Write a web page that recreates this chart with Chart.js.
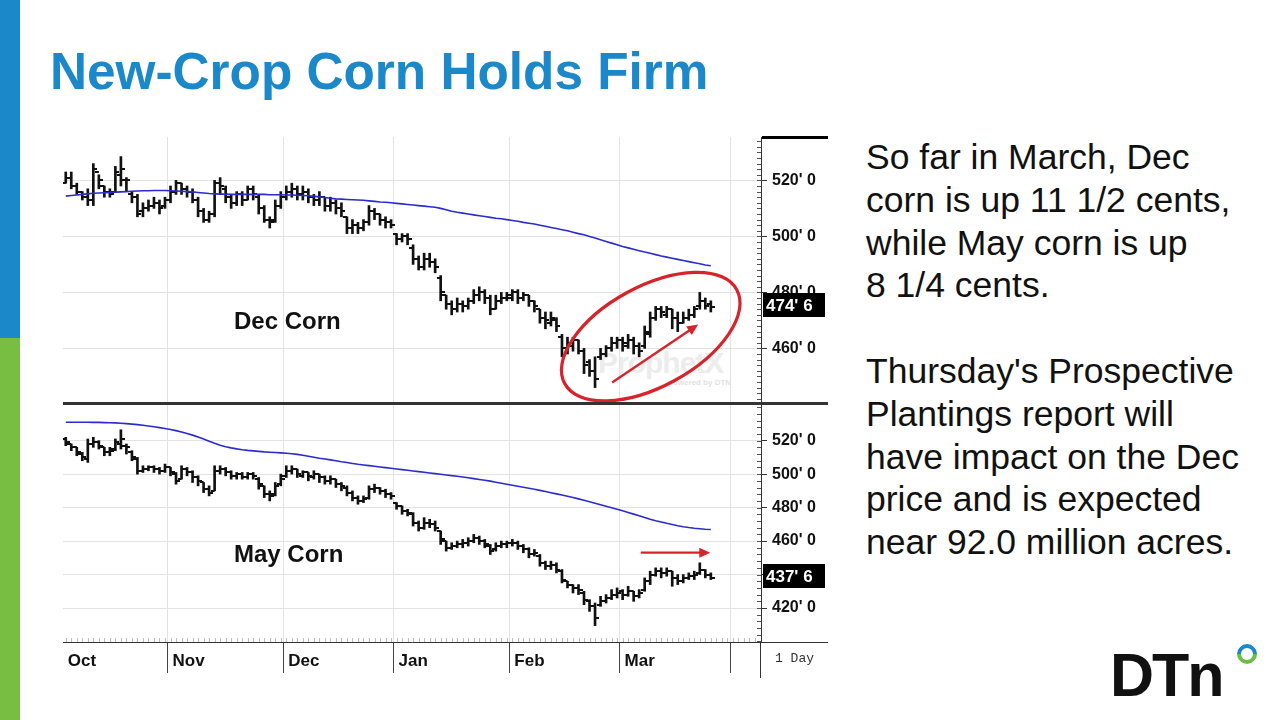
<!DOCTYPE html>
<html><head><meta charset="utf-8">
<script src="https://cdn.jsdelivr.net/npm/chart.js@4.4.1/dist/chart.umd.min.js"></script>
<style>
html,body{margin:0;padding:0;background:#fff;}
body{width:1280px;height:720px;position:relative;overflow:hidden;font-family:'Liberation Sans',Arial,sans-serif;}
.abs{position:absolute;}
#sb{left:0;top:0;width:20px;height:338px;background:#1a88c9;}
#sg{left:0;top:338px;width:20px;height:382px;background:#78be43;}
#title{left:50px;top:46px;margin:0;font-size:51.3px;line-height:51px;font-weight:bold;color:#1a88c9;white-space:nowrap;}
#side{left:866px;top:136px;font-size:35.5px;line-height:42.8px;color:#111;white-space:nowrap;}
#logo{left:1110px;top:640px;font-size:61px;line-height:70px;font-weight:bold;color:#111;letter-spacing:-2px;}
#ring{left:1237px;top:644px;width:12px;height:12px;border-radius:50%;border:4px solid;border-color:#1a88c9 #1a88c9 #6cbd45 #6cbd45;transform:rotate(-45deg);}
.plab{font-size:24px;font-weight:bold;color:#111;white-space:nowrap;}
#cTop{left:63px;top:137px;}
#cBot{left:63px;top:403px;}
.ln{background:#222;}
#day{left:775px;top:651px;font-family:'Liberation Mono','DejaVu Sans Mono',monospace;font-size:13px;color:#333;}
#wm{left:598px;top:346px;font-size:30px;font-weight:bold;color:#ececec;letter-spacing:-1px;}
#wm2{left:668px;top:378px;font-size:8px;font-weight:bold;color:#e2e2e2;}
</style></head>
<body>
<div id="sb" class="abs"></div><div id="sg" class="abs"></div>
<div id="title" class="abs">New-Crop Corn Holds Firm</div>
<div id="side" class="abs">So far in March, Dec<br>corn is up 11 1/2 cents,<br>while May corn is up<br>8 1/4 cents.<br>&nbsp;<br>Thursday's Prospective<br>Plantings report will<br>have impact on the Dec<br>price and is expected<br>near 92.0 million acres.</div>
<div id="logo" class="abs">DTn</div><div id="ring" class="abs"></div>
<div id="wm" class="abs">ProphetX</div><div id="wm2" class="abs">powered by DTN</div>
<canvas id="cTop" class="abs" width="765" height="266"></canvas>
<canvas id="cBot" class="abs" width="765" height="275"></canvas>
<div class="abs plab" style="left:234px;top:307px;">Dec Corn</div>
<div class="abs plab" style="left:234px;top:540px;">May Corn</div>
<div class="abs ln" style="left:762px;top:136px;width:66px;height:3px;background:#000;"></div>
<div class="abs ln" style="left:63px;top:402px;width:765px;height:3px;background:#333;"></div>
<div class="abs ln" style="left:761px;top:642px;width:67px;height:1px;background:#333;"></div>
<div class="abs ln" style="left:760px;top:642px;width:1px;height:36px;background:#333;"></div>
<div id="day" class="abs">1 Day</div>
<script>
// ---- data ----
const monthNames = ['Oct','Nov','Dec','Jan','Feb','Mar',''];
const monthStart = [0,19,40,60,81,101,121];

const decOpen = [519,521,518,516,514,513,523,518,516,516,522,520,515,514,509,510,511,512,511,
513,516,519,517,516,513,509,506,508,519,517,514,512,515,513,517,514,510,506,506,511,
514,516,517,515,516,514,513,514,511,512,510,507,503,504,503,505,509,508,506,505,
501,499,500,496,492,489,492,491,485,479,476,474,476,475,477,479,480,478,474,477,478,
478,480,478,479,477,474,471,469,470,464,460,461,463,459,455,452,457,458,460,462,
463,461,463,461,461,465,471,474,472,474,471,469,471,472,475,477,476];
const decHigh = [523,523,519,516,517,526,522,518,517,525,528.5,521,516,515,512,513,514,513,514,
518,520,519,518,517,514,510,509,520,521,518,515,516,516,518,518,515,511,507,513,516,
518,519,518,518,517,515,516,514,514,513,512,507,506,505,506,511,510,508,507,506,
501,501,501,497,493,494,494,492,486,479,477,478,477,478,481,482,481,479,479,480,480,
481,481,480,479,477,474,473,473,471,465,464,464,463,460,456,457,460,461,464,464,
464,465,464,462,468,473,475,475,475,474,473,473,474,475,480,478,477];
const decLow = [519,517,515,513,511,511,517,514,514,516,518,516,512,507,507,509,510,508,510,
512,515,515,514,512,507,505,505,507,515,512,510,511,511,513,513,508,505,503,505,510,
513,514,513,513,512,511,511,509,509,508,507,501,501,501,502,504,506,504,503,503,
497,498,497,490,488,488,489,487,477,474,472,473,473,474,476,477,476,472,474,476,477,
477,476,477,475,473,469,467,468,466,457,458,459,458,451,450,446,456,457,459,460,
459,460,458,457,460,464,470,471,471,467,466,469,470,471,474,474,473];
const decClose = [521,518,516,514,513,524,520,516,515,523,524,520,514,508,510,511,512,510,513,
516,519,517,516,513,509,506,508,519,518,514,512,515,513,517,515,510,506,505,511,514,
516,517,515,516,514,513,514,511,512,510,509,503,504,503,505,509,508,506,505,504,
499,500,499,492,489,492,491,489,480,476,474,476,475,477,479,480,478,474,477,478,479,
480,478,479,477,475,471,470,471,468,460,462,463,459,454,452,449,458,460,462,463,
462,463,461,459,466,471,474,473,474,471,469,471,472,474,477,475,474.75];
const decAvg = [514.4,514.6,514.8,515.0,515.2,515.4,515.5,515.6,515.7,515.8,
515.9,516.0,516.1,516.2,516.3,516.3,516.4,516.4,516.4,516.3,
516.2,516.1,516.0,515.9,515.7,515.5,515.3,515.2,515.1,515.1,
515.0,515.0,515.0,515.0,515.0,515.0,515.0,514.9,514.9,514.9,
514.8,514.8,514.7,514.6,514.5,514.3,514.1,513.9,513.6,513.4,
513.3,513.2,513.1,513.0,512.9,512.7,512.5,512.3,512.2,512.0,
511.8,511.6,511.4,511.2,511.0,510.8,510.6,510.4,510.0,509.5,
509.0,508.6,508.3,508.0,507.7,507.4,507.1,506.8,506.5,506.3,
506.0,505.7,505.4,505.0,504.7,504.4,504.0,503.6,503.2,502.8,
502.4,502.0,501.5,501.0,500.6,500.0,499.4,498.8,498.2,497.6,
497.0,496.4,495.9,495.4,494.9,494.4,494.0,493.5,493.0,492.6,
492.2,491.8,491.4,491.0,490.6,490.2,489.8,489.5];

const mayOpen = [521,518,516,512,509,518,519,516,513,515,518,517,513,509,502,503,504,503,502,
504,500,497,503,501,498,495,491,490,502,503,501,499,500,498,500,497,493,488,488,494,
499,502,503,499,501,498,500,498,496,497,494,492,489,486,484,486,491,492,490,488,
483,481,478,476,471,468,471,470,466,460,456,457,458,459,460,462,460,457,455,457,458,
459,459,457,455,452,451,447,445,446,442,436,434,432,429,424,421,422,424,426,428,
430,428,430,427,431,436,440,442,441,442,438,436,438,439,441,443,440];
const mayHigh = [522,518,516,513,521,522,520,516,516,521,526.5,518,514,510,505,505,505,504,506,
504,501,505,504,502,499,495,493,505,505,504,502,501,501,501,501,498,493,490,495,500,
505,505,503,502,501,502,500,499,499,497,495,493,490,487,487,493,494,492,491,489,
483,481,479,477,472,474,473,472,466,460,459,460,461,462,464,463,461,458,459,460,460,
461,460,458,456,455,452,448,448,447,443,436,434,434,430,425,423,427,428,431,432,
431,433,430,431,438,442,444,444,444,442,440,440,441,442,447,443,441];
const mayLow = [517,514,511,508,507,516,515,511,511,514,515,512,508,500,501,502,501,500,501,
499,494,497,499,495,493,489,487,490,500,499,497,497,497,497,497,491,486,484,487,493,
498,500,498,498,496,497,495,494,494,492,490,487,484,482,483,485,489,488,486,485,
479,476,475,469,466,467,468,466,458,454,455,456,456,457,459,458,456,452,454,456,456,
457,455,453,450,451,445,443,443,441,435,432,429,428,422,418,409.5,421,423,425,426,
425,427,424,426,430,434,439,438,439,433,434,435,437,437,440,438,437];
const mayClose = [519,516,513,510,518,519,517,513,514,519,521,516,510,502,503,504,503,502,504,
501,496,503,501,498,496,491,489,502,503,501,499,500,498,500,499,494,488,487,493,497,
502,503,500,501,499,500,498,496,497,494,493,489,486,484,485,491,492,490,488,487,
481,478,477,471,468,471,470,468,461,456,457,458,459,460,462,460,458,454,457,458,459,
459,457,455,452,453,447,445,446,443,437,434,432,431,425,421,414,424,426,428,429,
428,430,427,429,436,440,442,441,442,438,436,438,439,440,443,440,437.75];
const mayAvg = [531.0,531.0,531.0,531.0,531.0,530.9,530.9,530.8,530.7,530.6,
530.4,530.2,529.9,529.6,529.2,528.8,528.3,527.8,527.3,526.7,
526.0,525.2,524.3,523.3,522.2,521.0,519.7,518.4,517.3,516.4,
515.7,515.1,514.6,514.2,513.9,513.6,513.3,513.1,512.9,512.7,
512.5,512.2,511.8,511.3,510.7,510.1,509.5,509.0,508.5,508.0,
507.4,506.9,506.4,505.9,505.5,505.1,504.7,504.3,503.9,503.5,
503.1,502.7,502.3,501.9,501.5,501.1,500.7,500.3,499.9,499.5,
499.1,498.7,498.3,497.8,497.3,496.8,496.3,495.8,495.2,494.6,
494.0,493.4,492.8,492.2,491.6,491.0,490.3,489.6,488.9,488.2,
487.5,486.8,486.0,485.2,484.4,483.5,482.6,481.7,480.8,479.9,
479.0,478.1,477.1,476.1,475.1,474.1,473.1,472.2,471.4,470.6,
469.9,469.2,468.6,468.1,467.7,467.4,467.1,466.9];

const decTicks = [460,480,500,520];
const mayTicks = [420,440,460,480,500,520];

// ---- styling helpers ----
const FONT = "'Liberation Sans', Arial, sans-serif";
Chart.defaults.font.family = FONT;

function tickImg(side){
  const c = document.createElement('canvas'); c.width = 8; c.height = 2;
  const g = c.getContext('2d'); g.fillStyle = '#111';
  if (side === 'L') g.fillRect(0,0,4,2); else g.fillRect(4,0,4,2);
  return c;
}
const openImg = tickImg('L'), closeImg = tickImg('R');

function fmtPrice(v){ const w = Math.floor(v); return w + "' " + Math.round((v - w) * 8); }

function makeDatasets(o,h,l,c,ma){
  const idx = c.map((_,i)=>i);
  return [
    {type:'line', data: idx.map(i=>({x:i,y:ma[i]})), borderColor:'#2b2bcf', borderWidth:1.6, pointRadius:0, tension:0, order:0},
    {type:'line', data: idx.map(i=>({x:i,y:o[i]})), showLine:false, pointStyle:openImg, pointRadius:3, order:1},
    {type:'line', data: idx.map(i=>({x:i,y:c[i]})), showLine:false, pointStyle:closeImg, pointRadius:3, order:1},
    {type:'bar', data: idx.map(i=>({x:i,y:[l[i],h[i]]})), backgroundColor:'#111', barThickness:2, grouped:false, order:2}
  ];
}

function xScale(show){
  return {
    type:'linear', min:-0.5, max:126.1, offset:false,
    afterBuildTicks: s => { s.ticks = monthStart.map(v=>({value:v-0.5})); },
    grid:{
      color: ctx => (ctx.tick && ctx.tick.value < 0) ? 'rgba(0,0,0,0)' : '#e3e3e3',
      offset:false, drawTicks: show, tickLength:31,
      tickColor: ctx => (ctx.tick && ctx.tick.value < 0) ? 'rgba(0,0,0,0)' : '#444'
    },
    border:{display: show, color:'#333'},
    ticks:{display: show, autoSkip:false, maxRotation:0, align:'start', padding:-22,
      color:'#111', font:{size:17, weight:'bold'},
      callback:(v,i)=> ' ' + monthNames[i]},
    afterFit: s => { s.height = show ? 36 : 0; s.paddingLeft = 0; s.paddingRight = 0; }
  };
}
function yScale(min,max,ticks){
  return {
    type:'linear', position:'right', min:min, max:max,
    afterBuildTicks: s => { s.ticks = ticks.map(v=>({value:v})); },
    grid:{color:'#e3e3e3', drawTicks:true, tickLength:6, tickColor:'#333'},
    border:{display:true, color:'#333'},
    ticks:{padding:5, color:'#111', font:{size:16, weight:'bold'}, callback: v => v + "' 0"},
    afterFit: s => { s.width = 67; s.paddingTop = 0; s.paddingBottom = 0; }
  };
}

const decor = {
  id:'decor',
  afterDraw(chart, args, opts){
    const {ctx, chartArea:a, scales:{x, y}} = chart;
    ctx.save();
    // minor ticks on price axis
    ctx.strokeStyle = '#555'; ctx.lineWidth = 1;
    for (let v = Math.ceil(y.min / opts.minor) * opts.minor; v <= y.max; v += opts.minor){
      const py = Math.round(y.getPixelForValue(v)) + 0.5;
      ctx.beginPath(); ctx.moveTo(a.right - 4, py); ctx.lineTo(a.right, py); ctx.stroke();
    }
    if (opts.xMinor){
      ctx.strokeStyle = '#bdbdbd';
      for (let i = 0; i <= 125; i++){
        const px = Math.round(x.getPixelForValue(i)) + 0.5;
        ctx.beginPath(); ctx.moveTo(px, a.bottom - 4); ctx.lineTo(px, a.bottom); ctx.stroke();
      }
    }
    // red annotations
    ctx.strokeStyle = '#d7232a'; ctx.fillStyle = '#d7232a';
    if (opts.ellipse){
      const e = opts.ellipse;
      ctx.lineWidth = 3.2;
      ctx.beginPath();
      ctx.ellipse(x.getPixelForValue(e.x), y.getPixelForValue(e.y), e.rx, e.ry, e.rot, 0, Math.PI*2);
      ctx.stroke();
    }
    if (opts.arrow){
      const r = opts.arrow;
      const x0 = x.getPixelForValue(r.x0), y0 = y.getPixelForValue(r.y0);
      const x1 = x.getPixelForValue(r.x1), y1 = y.getPixelForValue(r.y1);
      const ang = Math.atan2(y1 - y0, x1 - x0);
      ctx.lineWidth = 2.4;
      ctx.beginPath(); ctx.moveTo(x0, y0); ctx.lineTo(x1 - 8*Math.cos(ang), y1 - 8*Math.sin(ang)); ctx.stroke();
      ctx.beginPath();
      ctx.moveTo(x1, y1);
      ctx.lineTo(x1 - 11*Math.cos(ang) + 5*Math.sin(ang), y1 - 11*Math.sin(ang) - 5*Math.cos(ang));
      ctx.lineTo(x1 - 11*Math.cos(ang) - 5*Math.sin(ang), y1 - 11*Math.sin(ang) + 5*Math.cos(ang));
      ctx.closePath(); ctx.fill();
    }
    // last price tag
    const ty = Math.round(y.getPixelForValue(opts.last));
    ctx.fillStyle = '#000';
    ctx.fillRect(a.right + 2, ty - 14, 62, 24);
    ctx.fillStyle = '#fff'; ctx.font = "bold 17px " + FONT; ctx.textBaseline = 'middle'; ctx.textAlign = 'left';
    ctx.fillText(fmtPrice(opts.last), a.right + 5, ty - 1);
    ctx.restore();
  }
};

function build(id, o,h,l,c,ma, min,max,ticks, showX, opts){
  return new Chart(document.getElementById(id), {
    type:'bar',
    data:{datasets: makeDatasets(o,h,l,c,ma)},
    options:{
      responsive:false, animation:false, devicePixelRatio:1, events:[],
      layout:{padding:0, autoPadding:false},
      plugins:{legend:{display:false}, tooltip:{enabled:false}, decor: opts},
      scales:{x: xScale(showX), y: yScale(min,max,ticks)}
    },
    plugins:[decor]
  });
}

build('cTop', decOpen, decHigh, decLow, decClose, decAvg, 440.5, 535.5, decTicks, false, {
  minor:2, xMinor:false, last: decClose[decClose.length-1],
  ellipse:{x:106.1, y:464.2, rx:98, ry:50, rot:-0.5},
  arrow:{x0:99.1, y0:447.8, x1:114.7, y1:468.5}
});
build('cBot', mayOpen, mayHigh, mayLow, mayClose, mayAvg, 399.7, 542.5, mayTicks, true, {
  minor:4, xMinor:true, last: mayClose[mayClose.length-1],
  arrow:{x0:104.3, y0:453.1, x1:116.9, y1:453.1}
});
</script>
</body></html>
